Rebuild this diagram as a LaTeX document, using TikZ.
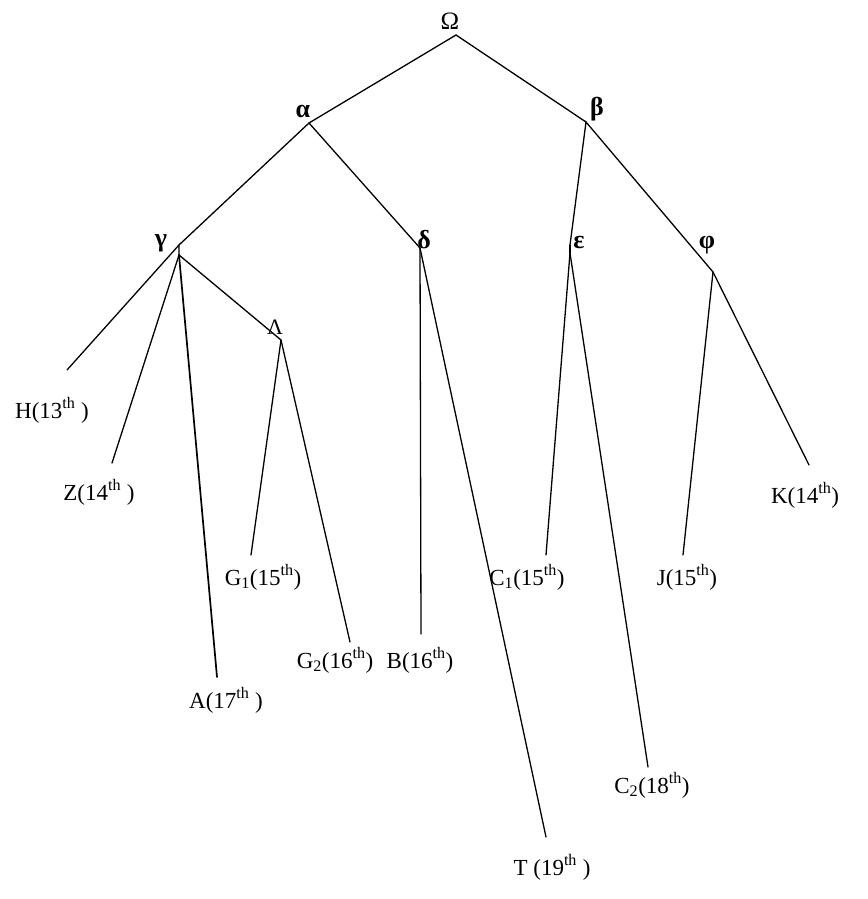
\documentclass[tikz,border=0pt]{standalone}
\usepackage{fontspec}
\setmainfont{Liberation Serif}
\begin{document}
\begin{tikzpicture}[x=1pt,y=-1pt,
  edge/.style={line width=1.3pt, line cap=round},
  leaf/.style={anchor=base, inner sep=0pt, font=\fontsize{23}{27}\selectfont},
  inner/.style={anchor=base, inner sep=0pt, font=\fontsize{26}{30}\selectfont\bfseries},
  root/.style={anchor=base, inner sep=0pt, font=\fontsize{25}{29}\selectfont}]
\useasboundingbox (0,0) rectangle (867,899);
% junction points
\coordinate (O) at (456,35);
\coordinate (a) at (309,123);
\coordinate (b) at (586,122);
\coordinate (g) at (179,245);
\coordinate (g2) at (179,255);
\coordinate (d) at (420,248);
\coordinate (e) at (570,245);
\coordinate (e2) at (570,253);
\coordinate (f) at (713,272);
\coordinate (L) at (281,340);
% leaf ends
\coordinate (h) at (67,370);
\coordinate (z) at (112,463);
\coordinate (aa) at (217,677);
\coordinate (g1) at (251,555);
\coordinate (gg2) at (350,642);
\coordinate (bb) at (421,634);
\coordinate (t) at (546,837);
\coordinate (c1) at (546,555);
\coordinate (c2) at (648,767);
\coordinate (j) at (683,555);
\coordinate (k) at (809,465);
% labels
\node[root] (nO) at (450,30) {Ω};
\node[inner] (na) at (303,117) {α};
\node[inner] (nb) at (597,115) {β};
\node[inner] (ng) at (161,246) {γ};
\node[inner] (nd) at (424,248) {δ};
\node[inner] (ne) at (579,248) {ε};
\node[inner] (nf) at (707,248) {φ};
\node[leaf, font=\fontsize{22}{26}\selectfont] (nL) at (275,334) {Λ};
\node[leaf] (nh) at (52,418) {H(13\textsuperscript{th} )};
\node[leaf] (nz) at (99,500) {Z(14\textsuperscript{th} )};
\node[leaf] (naa) at (226,708) {A(17\textsuperscript{th} )};
\node[leaf] (ng1) at (263,585) {G\textsubscript{1}(15\textsuperscript{th})};
\node[leaf] (ngg2) at (335,668) {G\textsubscript{2}(16\textsuperscript{th})};
\node[leaf] (nbb) at (420,668) {B(16\textsuperscript{th})};
\node[leaf] (nc1) at (527,585) {C\textsubscript{1}(15\textsuperscript{th})};
\node[leaf] (nj) at (687,585) {J(15\textsuperscript{th})};
\node[leaf] (nk) at (805,503) {K(14\textsuperscript{th})};
\node[leaf] (nc2) at (652,793) {C\textsubscript{2}(18\textsuperscript{th})};
\node[leaf] (nt) at (552,875) {T (19\textsuperscript{th} )};
% edges
\draw[edge] (a) -- (O) -- (b);
\draw[edge] (g) -- (a) -- (d);
\draw[edge] (e) -- (b) -- (f);
\draw[edge] (h) -- (g) -- (g2);
\draw[edge] (g2) -- (z);
\draw[edge, line width=1.7pt] (g2) -- (aa);
\draw[edge] (g2) -- (L);
\draw[edge] (L) -- (g1);
\draw[edge] (L) -- (gg2);
\draw[edge] (d) -- (bb);
\draw[edge] (d) -- (t);
\draw[edge] (e) -- (e2);
\draw[edge] (e2) -- (c1);
\draw[edge] (e2) -- (c2);
\draw[edge] (f) -- (j);
\draw[edge] (f) -- (k);
\end{tikzpicture}
\end{document}
